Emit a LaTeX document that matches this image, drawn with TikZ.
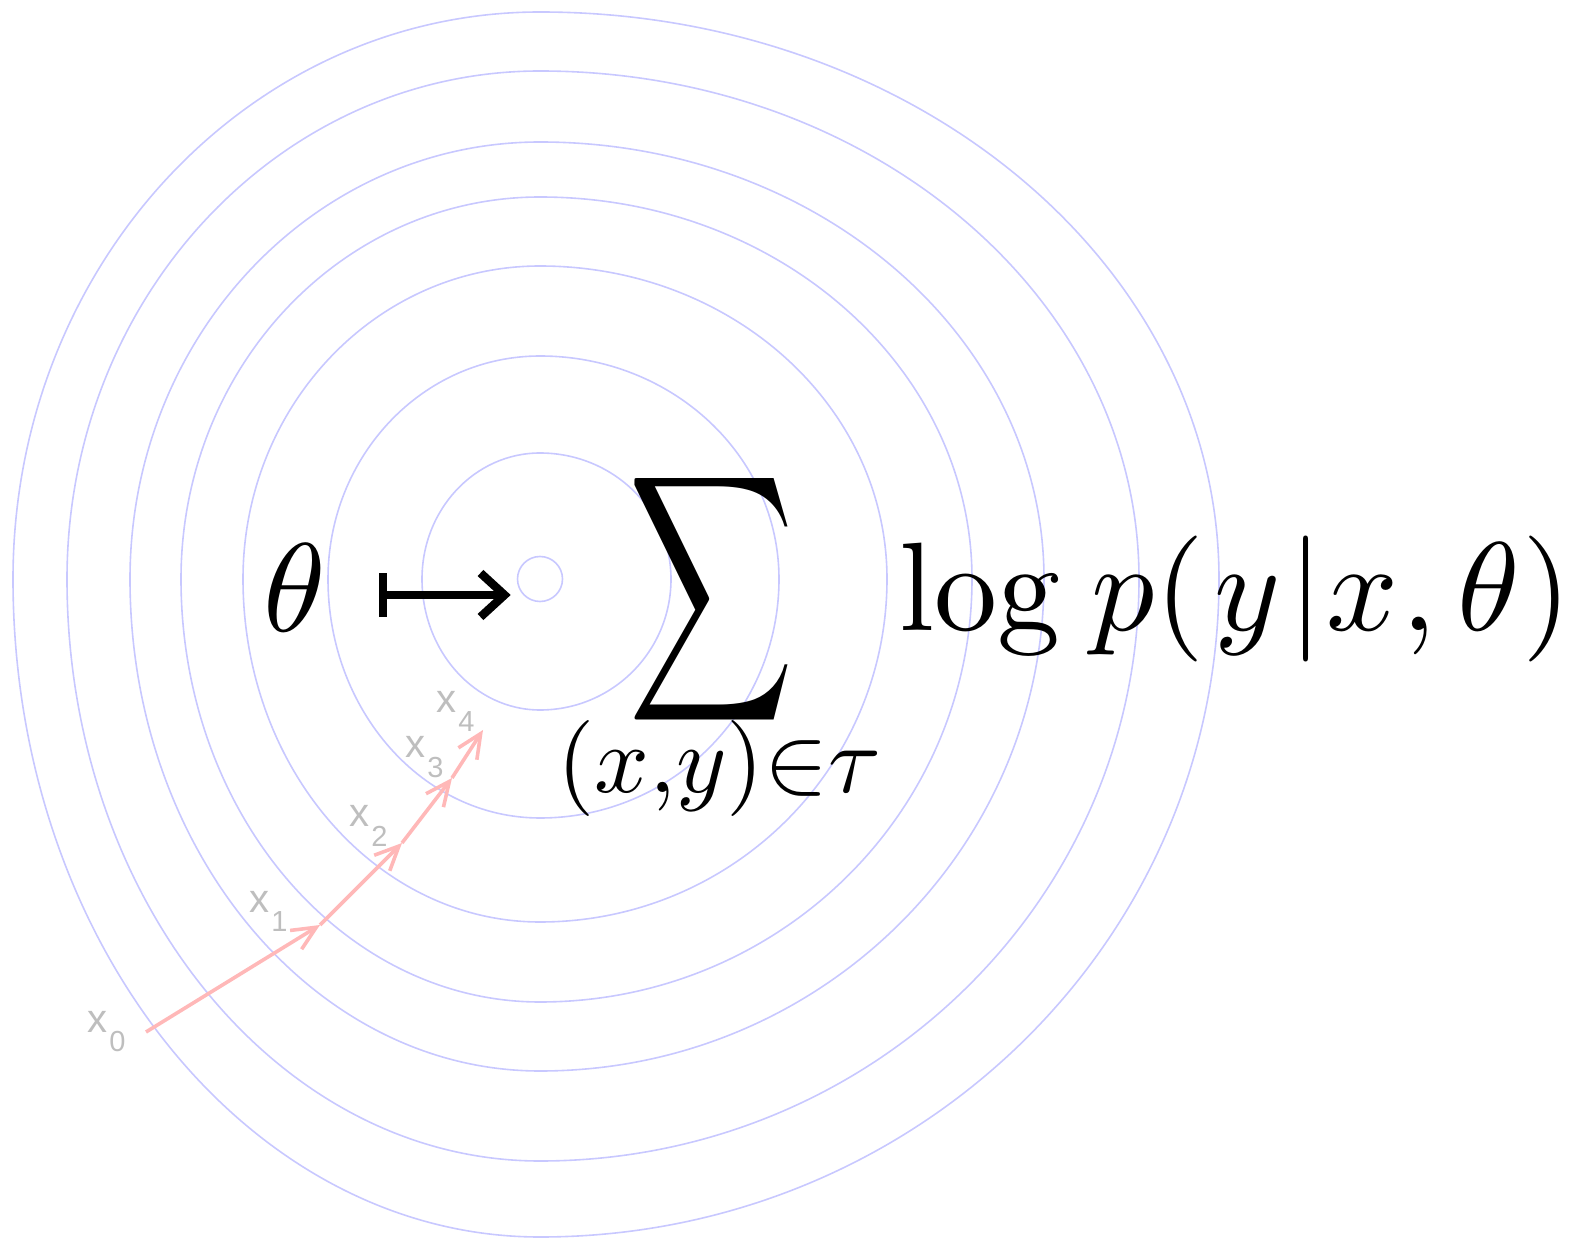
\documentclass[tikz,border=0pt]{standalone}
\usepackage{amsmath,amssymb}
\usepackage{graphicx}
\usepackage{fontspec}
\usepackage{tikz}
\usetikzlibrary{arrows.meta}
\newfontfamily\labelsans{Liberation Sans}
\definecolor{contourlav}{HTML}{C8C8FF}
\definecolor{pinkstep}{HTML}{FFB8B8}
\definecolor{graylabel}{HTML}{BEBEBE}
\tikzset{
  contourline/.style={contourlav,line width=0.8pt},
  stepline/.style={pinkstep,line width=1.8pt,-{Straight Barb[length=12pt,width=11pt]}},
  steptext/.style={graylabel,anchor=base west,inner sep=0pt,font=\labelsans},
  bigmath/.style={anchor=base west,inner sep=0pt},
  mapsto/.style={line width=4.2pt,{Bar[width=22pt]}-{Straight Barb[length=12pt,width=22pt]}},
}
\newcommand{\xsub}[1]{{\fontsize{20}{22}\selectfont x}\hspace{1pt}\raisebox{-9.5pt}{\fontsize{14.5}{16}\selectfont #1}}

\begin{document}
\begin{tikzpicture}[x=0.5pt,y=-0.5pt]
  \useasboundingbox (0,0) rectangle (1575,1240);
  % level sets round the optimum
  \foreach \lw/\rw/\tw/\bw in {118/131/126/131,212/239/223/239,297/347/313/343,
      359/432/382/423,410/504/437/492,473/599/508/582,527/679/567/658} {
    \draw[contourline] (540+\rw,579)
      arc[start angle=0,end angle=90,x radius=\rw,y radius=\bw]
      arc[start angle=90,end angle=180,x radius=\lw,y radius=\bw]
      arc[start angle=180,end angle=270,x radius=\lw,y radius=\tw]
      arc[start angle=270,end angle=360,x radius=\rw,y radius=\tw] -- cycle;
  }
  \node[circle,draw=contourlav,line width=0.8pt,minimum size=22.5pt,inner sep=0pt] (opt) at (540,579) {};
  % gradient steps
  \coordinate (p0) at (146,1032);
  \coordinate (p1) at (320,925);
  \coordinate (p2) at (402,843);
  \coordinate (p3) at (452,778);
  \coordinate (p4) at (483,730);
  \foreach \a/\b in {p0/p1,p1/p2,p2/p3,p3/p4}
    \draw[stepline] (\a) -- (\b);
  \node[steptext] (lab0) at (87,1032) {\xsub{0}};
  \node[steptext] (lab1) at (249,912) {\xsub{1}};
  \node[steptext] (lab2) at (349,827) {\xsub{2}};
  \node[steptext] (lab3) at (405,758) {\xsub{3}};
  \node[steptext] (lab4) at (436,712) {\xsub{4}};
  % objective
  \node[bigmath] (theta) at (263,632) {\scalebox{6.3}{$\theta$}};
  \coordinate (maptail) at (379,595);
  \draw[mapsto,shorten >=3pt] (maptail) -- (maptail -| opt.west);
  \node[anchor=north west,inner sep=0pt] (sum) at (628,461)
    {\resizebox*{83pt}{138pt}{$\displaystyle\sum$}};
  \node[bigmath] (sumidx) at (557,792) {\scalebox{4.8}{$(x{,}y){\in}\tau$}};
  \node[bigmath] (loglik) at (899,631)
    {\scalebox{6.3}{$\log\mkern1.5mu p(\mkern1.5mu y\mkern1mu|\mkern0.5mu x\mkern0.5mu,\theta\mkern0.3mu)$}};
\end{tikzpicture}
\end{document}
